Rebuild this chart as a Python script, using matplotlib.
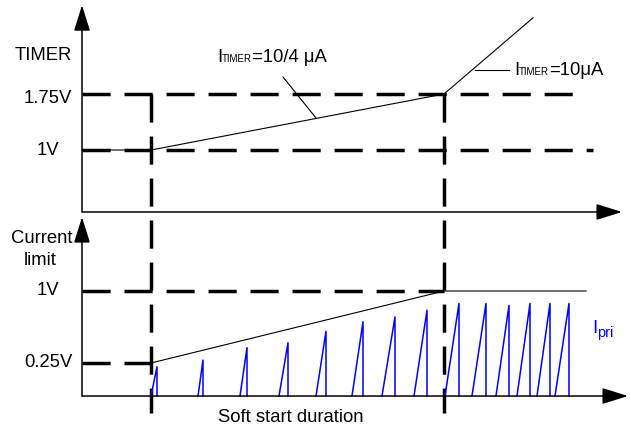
import matplotlib
matplotlib.use('Agg')
import matplotlib.pyplot as plt
from matplotlib.patches import ArrowStyle

plt.rcParams['font.family'] = ['Liberation Sans', 'DejaVu Sans']

# ---------------- data (time in arbitrary units, levels in volts) ----------------
t_ss_start = 6.9        # soft start begins
t_ss_end = 36.2         # soft start ends
timer_t = [0.0, 6.9, 36.2, 45.1]
timer_v = [1.0, 1.0, 1.75, 2.77]
timer_levels = [1.75, 1.0]
timer_level_ends = [49.3, 51.1]
timer_labels = ['1.75V', '1V']

climit_t = [6.9, 36.2, 50.4]
climit_v = [0.25, 1.0, 1.0]
climit_levels = [1.0, 0.25]
climit_level_ends = [36.2, 6.9]
climit_labels = ['1V', '0.25V']

pulse_start = [6.9, 11.6, 15.8, 19.7, 23.4, 27.0, 30.0, 33.2, 36.3, 39.0, 41.4, 43.5, 45.5, 47.3]
pulse_peak_t = [7.5, 12.1, 16.5, 20.6, 24.4, 28.1, 31.3, 34.5, 37.7, 40.4, 42.7, 44.8, 46.8, 48.7]
pulse_peak_v = [0.21, 0.28, 0.41, 0.46, 0.58, 0.68, 0.73, 0.80, 0.87, 0.87, 0.85, 0.87, 0.87, 0.87]

top_axis_level = 0.17
top_axis_end_t = 54.0
top_axis_end_v = 2.94
bot_axis_level = -0.094
bot_axis_end_t = 54.6
bot_axis_end_v = 1.77
marker_bottom = -2.52   # lower end of the vertical markers (top-panel units)

# ---------------- figure ----------------
W, H = 631, 428
fig = plt.figure(figsize=(W / 100, H / 100), dpi=100)
ax0 = fig.add_axes([0, 0, 1, 1])
ax0.set_xlim(0, W)
ax0.set_ylim(H, 0)
ax0.axis('off')

axt = fig.add_axes([0, 0, 1, 1])
axb = fig.add_axes([0, 0, 1, 1])
for a in (axt, axb):
    a.set_xlim(-8.2, 54.9)
    a.axis('off')
    a.patch.set_alpha(0)
axt.set_ylim(1 + (150 - 428) / 74.67, 1 + 150 / 74.67)
axb.set_ylim(1 + (291 - 428) / 96.0, 1 + 291 / 96.0)

DASH = dict(color='black', lw=2.5, linestyle=(0, (8.1, 4.0)), solid_capstyle='butt')
THIN = dict(color='black', lw=0.8)
head = ArrowStyle('-|>', head_length=1.6, head_width=0.5)


def axis_arrow(a, start, end):
    a.annotate('', xy=end, xytext=start,
               arrowprops=dict(arrowstyle=head, color='black', lw=1.1,
                               shrinkA=0, shrinkB=0, mutation_scale=10))


# axes with arrows
axis_arrow(axt, (0, top_axis_level), (top_axis_end_t, top_axis_level))
axis_arrow(axt, (0, top_axis_level), (0, top_axis_end_v))
axis_arrow(axb, (0, bot_axis_level), (bot_axis_end_t, bot_axis_level))
axis_arrow(axb, (0, bot_axis_level), (0, bot_axis_end_v))

# dashed levels
for lv, te in zip(timer_levels, timer_level_ends):
    axt.plot([0, te], [lv, lv], **DASH)
for lv, te in zip(climit_levels, climit_level_ends):
    axb.plot([0, te], [lv, lv], **DASH)

# vertical markers
for tv in (t_ss_start, t_ss_end):
    axt.plot([tv, tv], [timer_levels[0], marker_bottom], **DASH)

# TIMER waveform
axt.plot(timer_t, timer_v, **THIN)
# current limit waveform
axb.plot(climit_t, climit_v, **THIN)

# primary current pulses
for ts, tp, vp in zip(pulse_start, pulse_peak_t, pulse_peak_v):
    axb.plot([ts, tp, tp], [bot_axis_level, vp, bot_axis_level], color='#0000ff', lw=1.1)

# ---------------- texts ----------------
FS = 13.3
ax0.text(43, 60, 'TIMER', fontsize=FS, ha='center', va='baseline')
for lab, yb in zip(timer_labels, [103, 155]):
    ax0.text(48, yb, lab, fontsize=FS, ha='center', va='baseline')
ax0.text(42, 243, 'Current', fontsize=FS, ha='center', va='baseline')
ax0.text(40, 265, 'limit', fontsize=FS, ha='center', va='baseline')
for lab, yb in zip(climit_labels, [295, 367]):
    ax0.text(48, yb, lab, fontsize=FS, ha='center', va='baseline')
ax0.text(291, 422, 'Soft start duration', fontsize=FS, ha='center', va='baseline')

fig.canvas.draw()
renderer = fig.canvas.get_renderer()


def rich(x, y, parts, color='black'):
    for s, size, dy in parts:
        t = ax0.text(x, y + dy, s, fontsize=size, color=color, ha='left', va='baseline')
        bb = t.get_window_extent(renderer)
        x = ax0.transData.inverted().transform((bb.x1, bb.y0))[0]


rich(217, 62, [('I', FS, 0), ('TIMER', 7, 0), ('=10/4 μA', FS, 0)])
rich(514, 75, [('I', FS, 0), ('TIMER', 7, 0), ('=10μA', FS, 0)])
rich(592, 333, [('I', FS, 0), ('pri', 10.5, 4)], color='#0000ff')

# leader lines
ax0.plot([283, 316], [77, 118], **THIN)
ax0.plot([475, 509], [70, 70], **THIN)

fig.savefig('out.png', dpi=100)
